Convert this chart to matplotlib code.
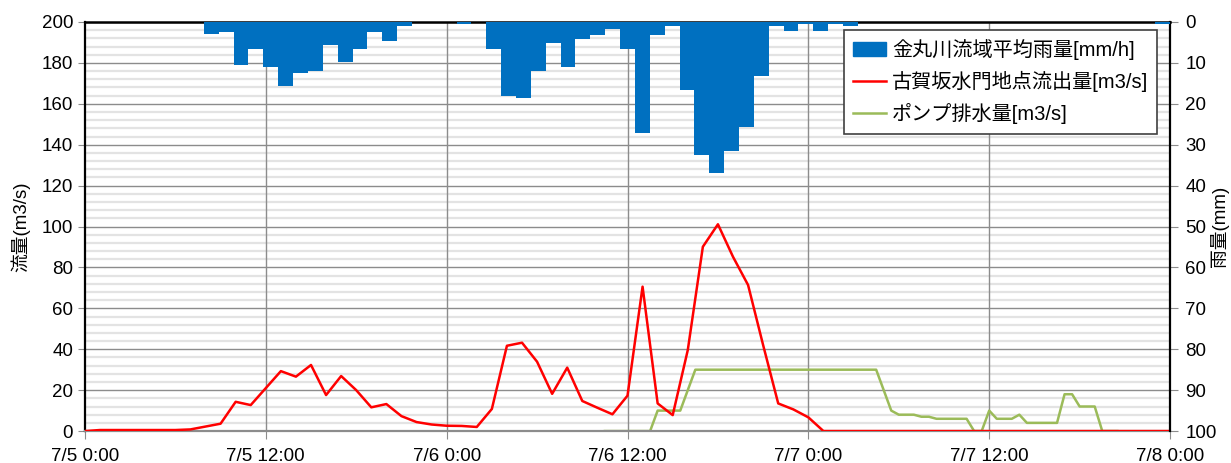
import numpy as np
import matplotlib
matplotlib.use("Agg")
import matplotlib.pyplot as plt
from matplotlib.patches import Patch
from matplotlib.lines import Line2D

plt.rcParams['font.family'] = ['Liberation Sans', 'Noto Sans CJK JP']

# --- データ ---
# 時刻 (7/5 0:00 からの経過時間 [h])
flow_hours = list(range(0, 73))
flow = [0, 0.5, 0.5, 0.5, 0.5, 0.5, 0.5, 0.8, 2.2, 3.6,
        14.3, 12.7, 21.0, 29.3, 26.6, 32.3, 17.6, 26.9, 20.0, 11.6,
        13.2, 7.3, 4.4, 3.2, 2.6, 2.5, 2.0, 10.8, 41.7, 43.2,
        33.9, 18.2, 31.0, 14.7, 11.4, 8.2, 17.3, 70.6, 13.5, 7.8,
        39.6, 90.1, 101.1, 85.2, 71.4, 42.0, 13.5, 10.6, 6.7, 0,
        0, 0, 0, 0, 0, 0, 0, 0, 0, 0,
        0, 0, 0, 0, 0, 0, 0, 0, 0, 0,
        0, 0, 0]

# 雨量 (1時間毎, 73区分)
rain = [0, 0, 0, 0, 0, 0, 0, 0, 3.0, 2.5,
        10.5, 6.6, 11.1, 15.6, 12.5, 12.1, 5.6, 9.7, 6.6, 2.5,
        4.6, 1.1, 0, 0, 0, 0.5, 0, 6.6, 18.0, 18.7,
        12.1, 5.2, 11.1, 4.2, 3.2, 1.7, 6.6, 27.1, 3.2, 1.1,
        16.6, 32.5, 37.0, 31.5, 25.6, 13.2, 1.1, 2.1, 0.5, 2.1,
        0.5, 1.1, 0, 0, 0, 0, 0, 0, 0, 0,
        0, 0, 0, 0, 0, 0, 0, 0, 0, 0,
        0, 0, 0.5]

# ポンプ排水量 (30分毎)
pump_hours = [34.5, 35, 35.5, 36, 36.5, 37, 37.5, 38, 38.5, 39,
              39.5, 40, 40.5, 41, 41.5, 42, 42.5, 43, 43.5, 44,
              44.5, 45, 45.5, 46, 46.5, 47, 47.5, 48, 48.5, 49,
              49.5, 50, 50.5, 51, 51.5, 52, 52.5, 53, 53.5, 54,
              54.5, 55, 55.5, 56, 56.5, 57, 57.5, 58, 58.5, 59,
              59.5, 60, 60.5, 61, 61.5, 62, 62.5, 63, 63.5, 64,
              64.5, 65, 65.5, 66, 66.5, 67, 67.5, 68, 68.5]
pump = [0, 0, 0, 0, 0, 0, 0, 10, 10, 10,
        10, 20, 30, 30, 30, 30, 30, 30, 30, 30,
        30, 30, 30, 30, 30, 30, 30, 30, 30, 30,
        30, 30, 30, 30, 30, 30, 30, 20, 10, 8,
        8, 8, 7, 7, 6, 6, 6, 6, 6, 0,
        0, 10, 6, 6, 6, 8, 4, 4, 4, 4,
        4, 18, 18, 12, 12, 12, 0, 0, 0]

xtick_hours = [0, 12, 24, 36, 48, 60, 72]
xtick_labels = ['7/5 0:00', '7/5 12:00', '7/6 0:00', '7/6 12:00',
                '7/7 0:00', '7/7 12:00', '7/8 0:00']

# --- 描画 ---
fig = plt.figure(figsize=(12.31, 4.63), dpi=100)
ax = fig.add_axes([0.069, 0.069, 0.8815, 0.8835])

ax.set_xlim(0, 72)
ax.set_ylim(0, 200)
ax.set_yticks(np.arange(0, 201, 20))
ax.set_yticks(np.arange(0, 201, 4), minor=True)
ax.set_xticks(xtick_hours)
ax.set_xticklabels(xtick_labels)
ax.grid(which='minor', axis='y', color='#e3e3e3', lw=1.6, zorder=0)
ax.grid(which='major', axis='y', color='#8c8c8c', lw=1.0, zorder=0)
for h in xtick_hours[1:-1]:
    ax.axvline(h, color='#8c8c8c', lw=1.0, zorder=1)
ax.set_axisbelow(True)

ax.plot(flow_hours, flow, color='#ff0000', lw=1.8, zorder=3)
ax.plot(pump_hours, pump, color='#9bbb59', lw=1.8, zorder=2)

ax.tick_params(axis='y', which='minor', length=0)
ax.tick_params(axis='y', which='major', labelsize=13.5, length=5, color='#8c8c8c', direction='out')
ax.tick_params(axis='x', labelsize=13.5, length=6, color='#8c8c8c', pad=6)
ax.spines['left'].set_color('black')
ax.spines['left'].set_linewidth(1.6)
ax.spines['bottom'].set_color('#8c8c8c')
ax.spines['bottom'].set_linewidth(1.6)
ax.spines['top'].set_visible(False)
ax.spines['right'].set_visible(False)
ax.set_ylabel('流量(m3/s)', fontsize=13.5, labelpad=8)

# 雨量 (右軸, 反転)
ax2 = ax.twinx()
n = len(rain)
bw = 72 / n
bar_x = (np.arange(n) + 0.5) * bw
ax2.bar(bar_x, rain, width=bw, color='#0070c0', linewidth=0, zorder=3)
ax2.set_ylim(100, 0)
ax2.set_yticks(np.arange(0, 101, 10))
ax2.tick_params(axis='y', labelsize=13.5, length=6, color='#8c8c8c', pad=5)
ax2.spines['right'].set_color('black')
ax2.spines['right'].set_linewidth(1.6)
ax2.spines['top'].set_color('black')
ax2.spines['top'].set_linewidth(1.8)
ax2.spines['left'].set_visible(False)
ax2.spines['bottom'].set_visible(False)
ax2.set_ylabel('雨量(mm)', fontsize=13.5, rotation=90)
ax2.yaxis.label.set_va('center')
ax2.yaxis.label.set_ha('center')
ax2.yaxis.set_label_coords(1.0455, 0.5)

handles = [Patch(facecolor='#0070c0', edgecolor='#0070c0'),
           Line2D([], [], color='#ff0000', lw=1.8),
           Line2D([], [], color='#9bbb59', lw=1.8)]
labels = ['金丸川流域平均雨量[mm/h]', '古賀坂水門地点流出量[m3/s]', 'ポンプ排水量[m3/s]']
leg = ax2.legend(handles, labels, loc='upper right', bbox_to_anchor=(0.988, 0.98),
                 fontsize=14.5, frameon=True, fancybox=False, framealpha=1,
                 edgecolor='#404040', handlelength=1.6, handleheight=0.7,
                 handletextpad=0.3, borderpad=0.45, labelspacing=0.55, borderaxespad=0)
leg.get_frame().set_linewidth(1.2)

fig.savefig('out.png', dpi=100)
